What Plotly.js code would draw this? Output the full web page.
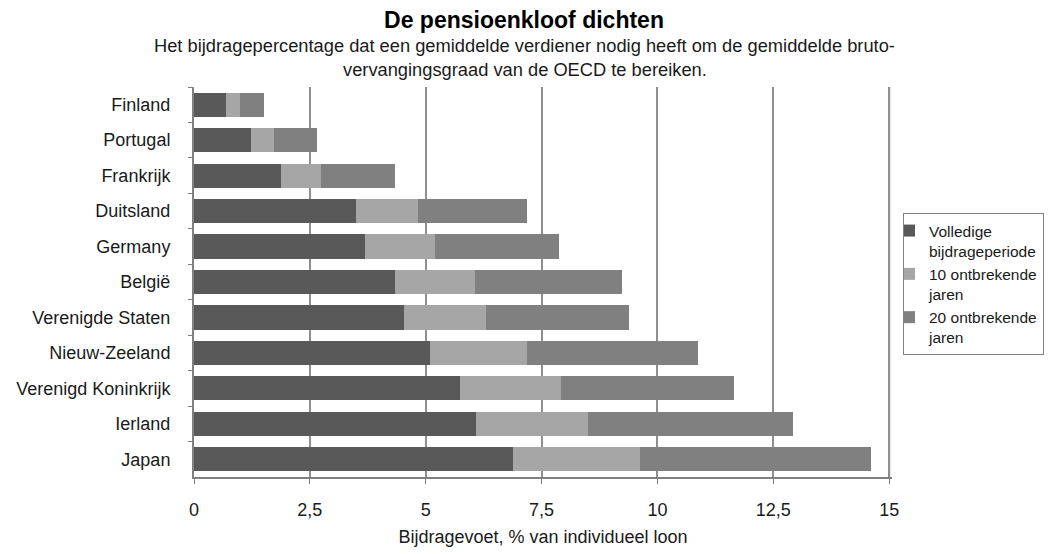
<!DOCTYPE html>
<html>
<head>
<meta charset="utf-8">
<script src="https://cdn.plot.ly/plotly-3.0.1.min.js"></script>
<style>html,body{margin:0;padding:0;background:#fff;}#chart{width:1048px;height:554px;}</style>
</head>
<body>
<div id="chart"></div>
<script>
const countries = ["Finland", "Portugal", "Frankrijk", "Duitsland", "Germany", "België", "Verenigde Staten", "Nieuw-Zeeland", "Verenigd Koninkrijk", "Ierland", "Japan"];
const volledige = [0.68, 1.23, 1.88, 3.49, 3.69, 4.33, 4.54, 5.10, 5.73, 6.08, 6.88];
const tienJaar = [0.31, 0.50, 0.85, 1.35, 1.50, 1.74, 1.77, 2.08, 2.19, 2.42, 2.74];
const twintigJaar = [0.51, 0.92, 1.61, 2.35, 2.69, 3.17, 3.07, 3.70, 3.73, 4.42, 4.98];
const seriesNames = ["Volledige<br>bijdrageperiode", "10 ontbrekende<br>jaren", "20 ontbrekende<br>jaren"];
const xTicks = [0, 2.5, 5, 7.5, 10, 12.5, 15];

const FONT = "Liberation Sans, Arial, sans-serif";
const W = 1048, H = 554;
const XMAX = 15.06;
const M = {l: 194, r: Math.round(W - 194 - 695 * XMAX / 15), t: 87, b: 77, autoexpand: false};
const PW = W - M.l - M.r, PH = H - M.t - M.b;
const px2x = px => (px - M.l) / PW;
const py2y = py => (H - M.b - py) / PH;

const colors = ["#595959", "#a6a6a6", "#808080"];
const data = [volledige, tienJaar, twintigJaar].map((vals, i) => ({
  type: "bar",
  orientation: "h",
  y: countries,
  x: vals,
  name: seriesNames[i],
  marker: {color: colors[i], line: {width: 0}},
  hoverinfo: "x+y"
}));

const layout = {
  width: W, height: H,
  margin: M,
  paper_bgcolor: "#fff",
  plot_bgcolor: "#fff",
  barmode: "stack",
  bargap: 0.32,
  separators: ",.",
  font: {family: FONT, size: 18, color: "#1a1a1a"},
  title: {
    text: "<b>De pensioenkloof dichten</b>",
    font: {family: FONT, size: 23, color: "#000"},
    xref: "container", x: 0.5, xanchor: "center",
    yref: "container", y: 1 - 20 / H, yanchor: "middle"
  },
  annotations: [
    {text: "Het bijdragepercentage dat een gemiddelde verdiener nodig heeft om de gemiddelde bruto-",
     xref: "paper", yref: "paper", x: px2x(524), y: py2y(46), xanchor: "center", yanchor: "middle",
     showarrow: false, font: {family: FONT, size: 18.3, color: "#1a1a1a"}},
    {text: "vervangingsgraad van de OECD te bereiken.",
     xref: "paper", yref: "paper", x: px2x(525), y: py2y(70), xanchor: "center", yanchor: "middle",
     showarrow: false, font: {family: FONT, size: 18.3, color: "#1a1a1a"}}
  ],
  shapes: [
    {type: "line", xref: "x", yref: "paper", x0: xTicks[xTicks.length - 1], x1: xTicks[xTicks.length - 1], y0: 0, y1: 1,
     line: {color: "#8f8f8f", width: 2}, layer: "below"}
  ],
  xaxis: {
    range: [0, XMAX],
    tickvals: xTicks,
    ticktext: xTicks.map(v => String(v).replace(".", ",")),
    showgrid: true, gridcolor: "#8f8f8f", gridwidth: 2,
    zeroline: false,
    showline: true, linecolor: "#808080", linewidth: 2,
    ticks: "outside", ticklen: 5, tickcolor: "#808080", tickwidth: 1,
    ticklabelstandoff: 10,
    tickfont: {family: FONT, size: 18, color: "#1a1a1a"},
    title: {text: "Bijdragevoet, % van individueel loon", font: {family: FONT, size: 18, color: "#1a1a1a"}, standoff: 12},
    fixedrange: true
  },
  yaxis: {
    autorange: "reversed",
    showgrid: false,
    showline: true, linecolor: "#808080", linewidth: 2,
    ticks: "outside", ticklen: 4, tickcolor: "#808080", tickwidth: 1,
    tickson: "boundaries",
    ticklabelstandoff: 18,
    tickfont: {family: FONT, size: 18, color: "#1a1a1a"},
    fixedrange: true
  },
  legend: {
    x: px2x(903), xanchor: "left",
    y: py2y(213), yanchor: "top",
    traceorder: "normal",
    valign: "top",
    bgcolor: "#fff",
    bordercolor: "#808080", borderwidth: 1,
    font: {family: FONT, size: 15.5, color: "#1a1a1a"},
    itemwidth: 30,
    indentation: -15,
    tracegroupgap: 0
  },
  showlegend: true
};

Plotly.newPlot("chart", data, layout, {displayModeBar: false, staticPlot: true});
</script>
</body>
</html>
